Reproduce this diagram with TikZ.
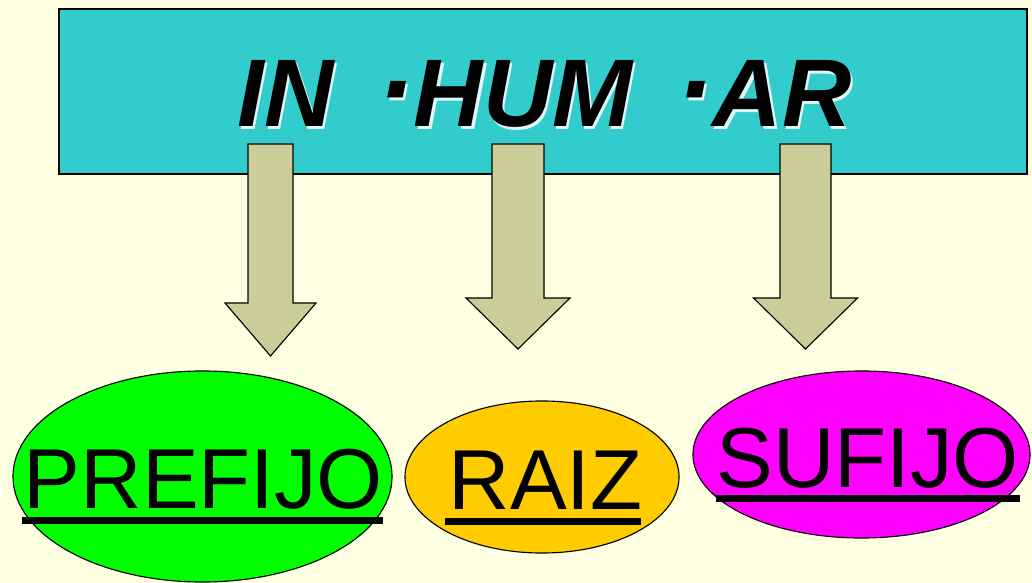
\documentclass[tikz,border=0pt]{standalone}
\usepackage{fontspec}
\setmainfont{Liberation Sans}
\usetikzlibrary{calc,positioning,shapes.geometric}
\tikzset{%
    box/.style={draw=black,line width=1pt,fill=aqua,inner sep=0pt},%
    blob/.style={ellipse,draw=black,line width=0.8pt,inner sep=0pt},%
    word/.style={inner sep=0pt,anchor=base,font=\fontsize{60.5}{70}\selectfont},%
    head/.style={inner sep=0pt,anchor=base,font=\fontsize{68.3}{80}\selectfont\bfseries\itshape},%
    uline/.style={line width=4.6pt}%
}
\newcommand{\BA}[6]{%
  % x, top, base, tip, half shaft, half head
  \filldraw[fill=khaki,draw=black,line width=0.8pt,line join=miter]
    (#1-#5,#2) -- (#1+#5,#2) -- (#1+#5,#3) -- (#1+#6,#3) -- (#1,#4)
    -- (#1-#6,#3) -- (#1-#5,#3) -- cycle;
}
\newcommand{\Title}{IN\hspace{31pt}\scalebox{1.15}{·}HUM\hspace{31pt}\scalebox{1.15}{·}AR}
\definecolor{paper}{RGB}{255,255,226}
\definecolor{aqua}{RGB}{51,204,204}
\definecolor{khaki}{RGB}{204,204,153}
\definecolor{lime}{RGB}{0,255,0}
\definecolor{gold}{RGB}{255,204,0}
\definecolor{pink}{RGB}{255,0,255}
\begin{document}
\begin{tikzpicture}[x=0.025cm,y=-0.025cm]
      \useasboundingbox (0,0) rectangle (1032,583);
      \fill[paper] (0,0) rectangle (1032,583);
      \node[box,minimum width=24.2cm,minimum height=4.125cm] (top) at (543,91.5) {};
      \node[head,white!85!aqua] (shade) at (547,129.5) {\Title};
      \node[head] (title) at (544.5,127) {\Title};
      \BA{270.5}{144}{303}{356}{22.5}{45.5};
      \BA{518}{144}{298}{349}{26}{52};
      \BA{805.5}{144}{298}{349}{25.5}{52};
      \node[blob,fill=lime,minimum width=9.475cm,minimum height=5.275cm] (pre) at (202.5,476.5) {};
      \node[blob,fill=gold,minimum width=6.85cm,minimum height=3.8cm] (rai) at (542,477) {};
      \node[blob,fill=pink,minimum width=8.425cm,minimum height=4.175cm] (suf) at (861.5,454.5) {};
      \node[word] (preT) at (203.5,508) {PREFIJO};
      \node[word] (raiT) at (545.5,509) {RAIZ};
      \node[word] (sufT) at (867.5,487) {SUFIJO};
      \draw[uline] ($(preT.base west)+(-2,12.5)$) -- ($(preT.base east)+(0,12.5)$);
      \draw[uline] ($(raiT.base west)+(-3,12.5)$) -- ($(raiT.base east)+(-2,12.5)$);
      \draw[uline] ($(sufT.base west)+(0,11.5)$) -- ($(sufT.base east)+(1,11.5)$);
    \end{tikzpicture}
\end{document}
